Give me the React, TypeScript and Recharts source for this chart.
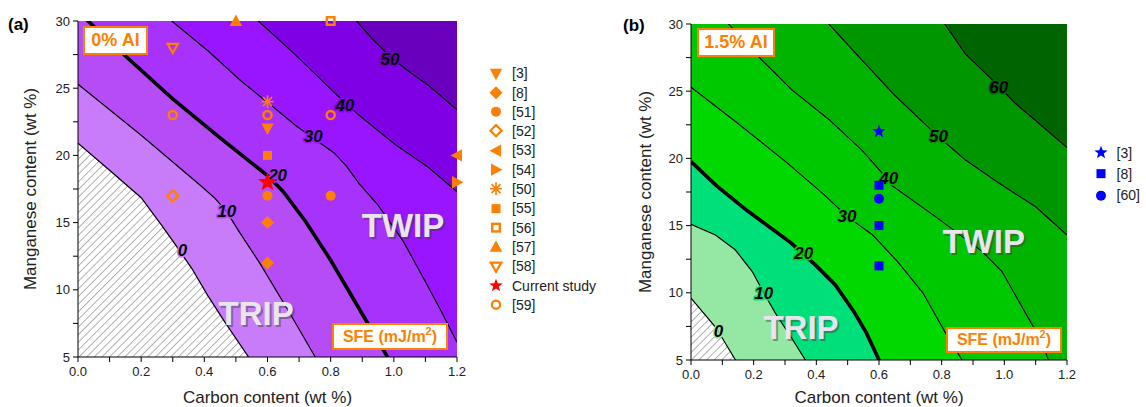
import React from "react";
import { ComposedChart, Area, Scatter, XAxis, YAxis } from "recharts";

type P = [number, number];
type L = [number, number, string];

const C_TICKS = [0, 0.1, 0.2, 0.3, 0.4, 0.5, 0.6, 0.7, 0.8, 0.9, 1.0, 1.1, 1.2];
const MN_TICKS = [5, 7.5, 10, 12.5, 15, 17.5, 20, 22.5, 25, 27.5, 30];
const TOP_EDGE: P[] = [[0, 30], [1.2, 30]];

// (a) 0% Al : SFE iso-lines, [C wt%, Mn wt%]
const A_LEVELS = [0, 10, 20, 30, 40, 50];
const A_SFE0: P[] = [[0, 20.9], [0.1, 18.9], [0.2, 16.85], [0.265, 14.8], [0.31, 13.3], [0.36, 11.6], [0.41, 9.6], [0.465, 7.6], [0.54, 5.0], [1.2, -20]];
const A_SFE10: P[] = [[0, 25.3], [0.2, 21.5], [0.386, 17.8], [0.434, 16.8], [0.471, 15.8], [0.508, 14.4], [0.575, 12.0], [0.667, 8.4], [0.751, 5.0], [1.2, -13]];
const A_SFE20: P[] = [[0, 30.7], [0.15, 27.4], [0.3, 24.2], [0.45, 21.3], [0.6, 18.5], [0.65, 17.3], [0.72, 15.1], [0.8, 12.2], [0.86, 9.8], [0.92, 7.4], [0.98, 5.0], [1.2, -3]];
const A_SFE30: P[] = [[0, 36], [0.297, 30], [0.413, 27.75], [0.518, 25.5], [0.608, 23.8], [0.69, 22.2], [0.75, 21.2], [0.81, 20.2], [0.85, 19.2], [0.89, 17.9], [0.95, 16.3], [1.03, 13.6], [1.1, 10.6], [1.15, 8.4], [1.2, 6.1]];
const A_SFE40: P[] = [[0, 44], [0.571, 30], [0.688, 27.5], [0.815, 24.6], [0.889, 23.0], [1.005, 20.8], [1.11, 19.1], [1.2, 17.3]];
const A_SFE50: P[] = [[0, 50], [0.882, 30], [0.931, 28.7], [0.99, 27.3], [1.05, 26.2], [1.11, 25.2], [1.2, 23.4]];
const A_LABELS: L[] = [[0.331, 12.96, "0"], [0.471, 15.8, "10"], [0.632, 18.5, "20"], [0.745, 21.4, "30"], [0.845, 23.75, "40"], [0.988, 27.1, "50"]];
const A_NOTES: L[] = [[0.564, 8.27, "TRIP"], [1.029, 14.75, "TWIP"]];

// (a) literature points
const A_REF3: P[] = [[0.6, 22]];
const A_REF8: P[] = [[0.6, 15], [0.6, 12]];
const A_REF51: P[] = [[0.6, 17], [0.8, 17]];
const A_REF52: P[] = [[0.3, 17]];
const A_REF53: P[] = [[1.2, 20]];
const A_REF54: P[] = [[1.2, 18]];
const A_REF50: P[] = [[0.6, 24]];
const A_REF55: P[] = [[0.6, 20]];
const A_REF56: P[] = [[0.8, 30]];
const A_REF57: P[] = [[0.5, 30]];
const A_REF58: P[] = [[0.3, 28]];
const A_CURRENT: P[] = [[0.6, 18]];
const A_REF59: P[] = [[0.3, 23], [0.6, 23], [0.8, 23]];

// (b) 1.5% Al
const B_LEVELS = [0, 10, 20, 30, 40, 50, 60];
const B_SFE0: P[] = [[0, 9.6], [0.08, 7.4], [0.142, 5.0], [1.2, -20]];
const B_SFE10: P[] = [[0, 15.1], [0.078, 14.3], [0.141, 13.2], [0.195, 11.6], [0.232, 10.0], [0.269, 8.5], [0.322, 6.6], [0.365, 5.0], [1.2, -20]];
const B_SFE20: P[] = [[0, 19.76], [0.08, 18.0], [0.18, 16.1], [0.32, 13.7], [0.4, 12.0], [0.46, 10.6], [0.52, 8.6], [0.56, 7.0], [0.6, 5.0], [1.2, -15]];
const B_SFE30: P[] = [[0, 25.3], [0.15, 22.6], [0.3, 19.8], [0.42, 17.4], [0.5, 15.65], [0.58, 14.3], [0.66, 12.3], [0.74, 10.0], [0.81, 7.1], [0.865, 5.0], [1.2, -8]];
const B_SFE40: P[] = [[0, 33], [0.12, 30], [0.227, 27.3], [0.322, 25.1], [0.44, 22.9], [0.546, 20.6], [0.61, 18.9], [0.64, 18.0], [0.79, 15.5], [0.928, 13.1], [0.992, 11.6], [1.077, 8.1], [1.12, 6.4], [1.14, 5.0], [1.2, 2.5]];
const B_SFE50: P[] = [[0, 41], [0.44, 30], [0.55, 27.2], [0.65, 24.7], [0.79, 21.6], [0.875, 19.9], [0.98, 18.2], [1.1, 16.4], [1.2, 14.3]];
const B_SFE60: P[] = [[0, 50], [0.81, 30], [0.875, 27.8], [0.95, 26.1], [1.035, 24.1], [1.136, 22.1], [1.2, 20.8]];
const B_LABELS: L[] = [[0.088, 7.1, "0"], [0.232, 9.96, "10"], [0.36, 12.94, "20"], [0.498, 15.66, "30"], [0.631, 18.5, "40"], [0.79, 21.6, "50"], [0.982, 25.3, "60"]];
const B_NOTES: L[] = [[0.351, 7.45, "TRIP"], [0.934, 13.8, "TWIP"]];

const B_REF3: P[] = [[0.6, 22]];
const B_REF8: P[] = [[0.6, 18], [0.6, 15], [0.6, 12]];
const B_REF60: P[] = [[0.6, 17]];

const ORANGE = "#ff7f00";
const BLUE = "#0000ff";
const A_FILL = ["url(#hatchA)", "#c97cfa", "#b64cf6", "#a632fb", "#9914ff", "#8000e6", "#6800bd"];
const B_FILL = ["url(#hatchB)", "#94e8a4", "#00e07a", "#00d800", "#00c800", "#00b400", "#009600", "#006400"];

const rows = (p: P[]) => p.map(([c, mn]) => ({ c, mn }));
const lrows = (p: L[]) => p.map(([c, mn, t]) => ({ c, mn, t }));

function Marker({ kind, x, y, color }: { kind: string; x: number; y: number; color: string }) {
  const poly = (pts: P[]) => pts.map(([dx, dy]) => `${x + dx},${y + dy}`).join(" ");
  const starPts = (R: number) => {
    const out: P[] = [];
    for (let i = 0; i < 10; i++) {
      const r = i % 2 === 0 ? R : R * 0.42;
      const a = -Math.PI / 2 + (i * Math.PI) / 5;
      out.push([r * Math.cos(a), r * Math.sin(a)]);
    }
    return poly(out);
  };
  switch (kind) {
    case "circle":
      return <circle cx={x} cy={y} r={5} fill={color} />;
    case "circleOpen":
      return <circle cx={x} cy={y} r={4.1} fill="none" stroke={color} strokeWidth={2.3} />;
    case "square":
      return <rect x={x - 4.5} y={y - 4.5} width={9} height={9} fill={color} />;
    case "squareOpen":
      return <rect x={x - 3.8} y={y - 3.8} width={7.6} height={7.6} fill="none" stroke={color} strokeWidth={2.4} />;
    case "diamond":
      return <polygon points={poly([[0, -6.5], [6.5, 0], [0, 6.5], [-6.5, 0]])} fill={color} />;
    case "diamondOpen":
      return <polygon points={poly([[0, -5.6], [5.6, 0], [0, 5.6], [-5.6, 0]])} fill="none" stroke={color} strokeWidth={2.2} />;
    case "triUp":
      return <polygon points={poly([[0, -6.5], [6.2, 5], [-6.2, 5]])} fill={color} />;
    case "triDown":
      return <polygon points={poly([[0, 6.5], [6.2, -5], [-6.2, -5]])} fill={color} />;
    case "triDownOpen":
      return <polygon points={poly([[0, 5.2], [5.2, -4], [-5.2, -4]])} fill="none" stroke={color} strokeWidth={2.2} />;
    case "triLeft":
      return <polygon points={poly([[-6.5, 0], [5, -6.2], [5, 6.2]])} fill={color} />;
    case "triRight":
      return <polygon points={poly([[6.5, 0], [-5, -6.2], [-5, 6.2]])} fill={color} />;
    case "asterisk":
      return (
        <g stroke={color} strokeWidth={1.6}>
          <line x1={x - 6} y1={y} x2={x + 6} y2={y} />
          <line x1={x} y1={y - 6.5} x2={x} y2={y + 6.5} />
          <line x1={x - 4.5} y1={y - 4.5} x2={x + 4.5} y2={y + 4.5} />
          <line x1={x - 4.5} y1={y + 4.5} x2={x + 4.5} y2={y - 4.5} />
        </g>
      );
    case "starBig":
      return <polygon points={starPts(10)} fill={color} />;
    case "star":
      return <polygon points={starPts(7)} fill={color} />;
    default:
      return null;
  }
}

type Series = { name: string; kind: string; color: string; pts: P[] };

const A_SERIES: Series[] = [
  { name: "[3]", kind: "triDown", color: ORANGE, pts: A_REF3 },
  { name: "[8]", kind: "diamond", color: ORANGE, pts: A_REF8 },
  { name: "[51]", kind: "circle", color: ORANGE, pts: A_REF51 },
  { name: "[52]", kind: "diamondOpen", color: ORANGE, pts: A_REF52 },
  { name: "[53]", kind: "triLeft", color: ORANGE, pts: A_REF53 },
  { name: "[54]", kind: "triRight", color: ORANGE, pts: A_REF54 },
  { name: "[50]", kind: "asterisk", color: ORANGE, pts: A_REF50 },
  { name: "[55]", kind: "square", color: ORANGE, pts: A_REF55 },
  { name: "[56]", kind: "squareOpen", color: ORANGE, pts: A_REF56 },
  { name: "[57]", kind: "triUp", color: ORANGE, pts: A_REF57 },
  { name: "[58]", kind: "triDownOpen", color: ORANGE, pts: A_REF58 },
  { name: "Current study", kind: "starBig", color: "#ff0000", pts: A_CURRENT },
  { name: "[59]", kind: "circleOpen", color: ORANGE, pts: A_REF59 },
];

const B_SERIES: Series[] = [
  { name: "[3]", kind: "star", color: BLUE, pts: B_REF3 },
  { name: "[8]", kind: "square", color: BLUE, pts: B_REF8 },
  { name: "[60]", kind: "circle", color: BLUE, pts: B_REF60 },
];

const tickStyle = { fontSize: 13, fill: "#222" };

function Panel(props: {
  width: number; top: number; right: number; yAxisWidth: number; xAxisHeight: number; yTitleOffset: number;
  hatchId: string; levels: number[]; lines: P[][]; fills: string[]; labels: L[]; notes: L[]; series: Series[];
}) {
  const { levels, lines, fills } = props;
  const order = levels.map((_, i) => i).reverse();
  return (
    <ComposedChart width={props.width} height={407} margin={{ top: props.top, right: props.right, bottom: 0, left: 0 }}>
      <defs>
        <pattern id={props.hatchId} patternUnits="userSpaceOnUse" width={5.4} height={5.4} patternTransform="rotate(45)">
          <rect width={5.4} height={5.4} fill="#fff" />
          <line x1={0} y1={0} x2={0} y2={5.4} stroke="#555" strokeWidth={0.9} />
        </pattern>
      </defs>
      <XAxis
        xAxisId="c" type="number" dataKey="c" domain={[0, 1.2]} ticks={C_TICKS} allowDataOverflow
        height={props.xAxisHeight} tick={tickStyle} tickSize={5} tickMargin={5}
        axisLine={{ stroke: "#000" }} tickLine={{ stroke: "#000" }}
        tickFormatter={(v: number) => (Math.round(v * 10) % 2 === 0 ? v.toFixed(1) : "")}
        label={{ value: "Carbon content (wt %)", position: "insideBottom", offset: 4, style: { fontSize: 17, fill: "#222" } }}
      />
      <YAxis
        yAxisId="c" type="number" dataKey="mn" domain={[5, 30]} ticks={MN_TICKS} allowDataOverflow
        width={props.yAxisWidth} tick={tickStyle} tickSize={5} tickMargin={3}
        axisLine={{ stroke: "#000" }} tickLine={{ stroke: "#000" }}
        tickFormatter={(v: number) => (v % 5 === 0 ? String(v) : "")}
        label={{ value: "Manganese content (wt %)", angle: -90, position: "insideLeft", offset: props.yTitleOffset, style: { fontSize: 17, fill: "#222", textAnchor: "middle" } }}
      />
      <XAxis xAxisId="m" type="number" dataKey="c" domain={[0, 1.2]} hide />
      <YAxis yAxisId="m" type="number" dataKey="mn" domain={[5, 30]} hide />
      <XAxis xAxisId="top" orientation="top" type="number" domain={[0, 1.2]} height={0} tick={false} tickLine={false} axisLine={{ stroke: "#000" }} />
      <YAxis yAxisId="right" orientation="right" type="number" domain={[5, 30]} width={0} tick={false} tickLine={false} axisLine={{ stroke: "#000" }} />

      <Area xAxisId="c" yAxisId="c" data={rows(TOP_EDGE)} dataKey="mn" type="linear" stroke="none"
        fill={fills[fills.length - 1]} fillOpacity={1} isAnimationActive={false} dot={false} activeDot={false} />
      {order.map((i) => (
        <Area key={levels[i]} xAxisId="c" yAxisId="c" data={rows(lines[i])} dataKey="mn" type="linear"
          stroke="#000" strokeWidth={levels[i] === 20 ? 3.6 : 1.2} fill={fills[i]} fillOpacity={1}
          isAnimationActive={false} dot={false} activeDot={false} />
      ))}

      <Scatter xAxisId="m" yAxisId="m" data={lrows(props.labels)} isAnimationActive={false}
        shape={(p: any) => {
          const idx = levels.indexOf(Number(p.payload.t));
          const bg = fills[idx + 1];
          return (
            <text x={p.cx} y={p.cy} textAnchor="middle" dominantBaseline="central" fontSize={17}
              fontWeight="bold" fontStyle="italic" fill="#000" stroke={bg} strokeWidth={3}
              strokeLinejoin="round" style={{ paintOrder: "stroke" }}>{p.payload.t}</text>
          );
        }} />
      <Scatter xAxisId="m" yAxisId="m" data={lrows(props.notes)} isAnimationActive={false}
        shape={(p: any) => (
          <g fontSize={33} fontWeight="bold" textAnchor="middle" dominantBaseline="central">
            <text x={p.cx + 2} y={p.cy + 2} fill="#3a3a3a" opacity={0.45}>{p.payload.t}</text>
            <text x={p.cx} y={p.cy} fill="#e8e5ef">{p.payload.t}</text>
          </g>
        )} />
      {props.series.map((s) => (
        <Scatter key={s.name} xAxisId="m" yAxisId="m" data={rows(s.pts)} isAnimationActive={false}
          shape={(p: any) => <Marker kind={s.kind} x={p.cx} y={p.cy} color={s.color} />} />
      ))}
    </ComposedChart>
  );
}

function Legend({ series, left, top, rowH }: { series: Series[]; left: number; top: number; rowH: number }) {
  return (
    <div style={{ position: "absolute", left, top }}>
      {series.map((s) => (
        <div key={s.name} style={{ display: "flex", alignItems: "center", height: rowH }}>
          <svg width={20} height={rowH}>
            <Marker kind={s.kind === "starBig" ? "star" : s.kind} x={10} y={rowH / 2} color={s.color} />
          </svg>
          <span style={{ marginLeft: 6, fontSize: 14, color: "#222" }}>{s.name}</span>
        </div>
      ))}
    </div>
  );
}

function Box({ left, top, width, height, fontSize, children }: any) {
  return (
    <div style={{
      position: "absolute", left, top, width, height, boxSizing: "border-box", border: `2px solid ${ORANGE}`,
      background: "#fff", color: ORANGE, fontWeight: "bold", fontSize, display: "flex",
      alignItems: "center", justifyContent: "center", whiteSpace: "nowrap",
    }}>{children}</div>
  );
}

const sup = <span style={{ fontSize: 11, position: "relative", top: -6 }}>2</span>;

export default function App() {
  return (
    <div style={{ position: "absolute", left: 0, top: 0, width: 1146, height: 407, background: "#fff", fontFamily: "'Liberation Sans', Arial, sans-serif" }}>
      <div style={{ position: "absolute", left: 0, top: 0 }}>
        <Panel width={470} top={21} right={13} yAxisWidth={78} xAxisHeight={50} yTitleOffset={30}
          hatchId="hatchA" levels={A_LEVELS} lines={[A_SFE0, A_SFE10, A_SFE20, A_SFE30, A_SFE40, A_SFE50]}
          fills={A_FILL} labels={A_LABELS} notes={A_NOTES} series={A_SERIES} />
      </div>
      <div style={{ position: "absolute", left: 600, top: 0 }}>
        <Panel width={480} top={24} right={13} yAxisWidth={91} xAxisHeight={47} yTitleOffset={45}
          hatchId="hatchB" levels={B_LEVELS} lines={[B_SFE0, B_SFE10, B_SFE20, B_SFE30, B_SFE40, B_SFE50, B_SFE60]}
          fills={B_FILL} labels={B_LABELS} notes={B_NOTES} series={B_SERIES} />
      </div>

      <div style={{ position: "absolute", left: 8, top: 15, fontSize: 17, fontWeight: "bold" }}>(a)</div>
      <div style={{ position: "absolute", left: 623, top: 16, fontSize: 17, fontWeight: "bold" }}>(b)</div>

      <Box left={83} top={26} width={65} height={29} fontSize={18}>0% Al</Box>
      <Box left={332} top={323} width={116} height={27} fontSize={16}>SFE (mJ/m{sup})</Box>
      <Box left={697} top={28} width={78} height={29} fontSize={18}>1.5% Al</Box>
      <Box left={946} top={327} width={116} height={26} fontSize={16}>SFE (mJ/m{sup})</Box>

      <Legend series={A_SERIES} left={486} top={63.6} rowH={19.3} />
      <Legend series={B_SERIES} left={1090.6} top={142} rowH={21.3} />
    </div>
  );
}
